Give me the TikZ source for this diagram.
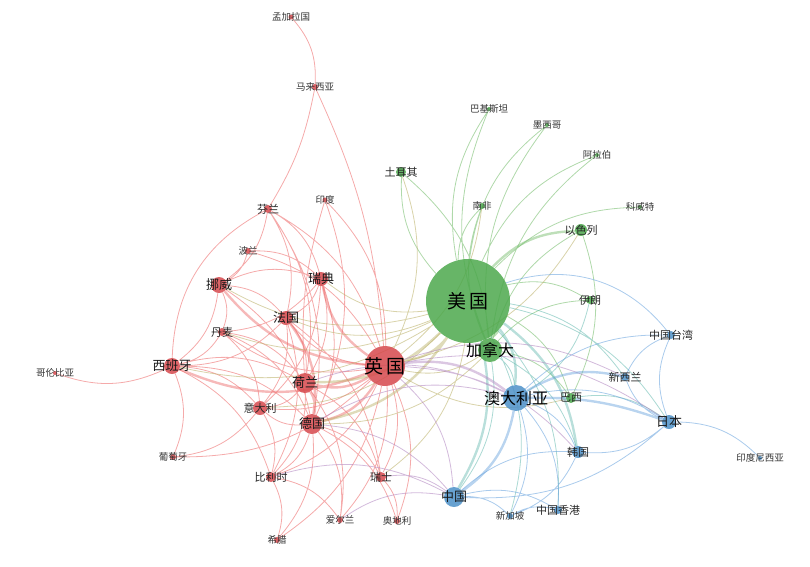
\documentclass[tikz,border=0pt]{standalone}
\usepackage{fontspec}
\setmainfont{Noto Sans CJK SC}
\usetikzlibrary{backgrounds}

\definecolor{rednode}{RGB}{214,72,76}
\definecolor{greennode}{RGB}{76,168,76}
\definecolor{bluenode}{RGB}{76,144,200}
\definecolor{redline}{RGB}{236,100,100}
\definecolor{greenline}{RGB}{110,185,100}
\definecolor{blueline}{RGB}{100,160,220}
\definecolor{oliveline}{RGB}{185,175,100}
\definecolor{tealline}{RGB}{100,185,175}
\definecolor{purpleline}{RGB}{175,130,190}

\tikzset{
  cnode/.style={circle, inner sep=0pt, minimum size=#1, opacity=0.85},
  rnode/.style={cnode=#1, fill=rednode},
  gnode/.style={cnode=#1, fill=greennode},
  bnode/.style={cnode=#1, fill=bluenode},
  lblS/.style={font=\fontsize{9.5}{10}\selectfont, text=black!80},
  lblM/.style={font=\fontsize{11}{12}\selectfont, text=black!85},
  lblL/.style={font=\fontsize{13}{14}\selectfont, text=black!90},
  lblX/.style={font=\fontsize{16}{17}\selectfont},
  lblXX/.style={font=\fontsize{19}{20}\selectfont},
  edgeline/.style={line width=0.8pt, draw opacity=0.55, bend left=22},
  redE/.style={edgeline, draw=redline},
  greenE/.style={edgeline, draw=greenline},
  blueE/.style={edgeline, draw=blueline},
  oliveE/.style={edgeline, draw=oliveline},
  tealE/.style={edgeline, draw=tealline},
  purpleE/.style={edgeline, draw=purpleline},
  heavy/.style={line width=2.4pt, draw opacity=0.45}
}

\begin{document}
\begin{tikzpicture}[x=1pt, y=-1pt]
\useasboundingbox (0,0) rectangle (810,566);

% Europe and others (red)
\node[rnode=5pt,  label={[lblS]center:孟加拉国}] (ban) at (291,17)  {};
\node[rnode=6pt,  label={[lblS]center:马来西亚}] (mal) at (315,87)  {};
\node[rnode=8pt,  label={[lblM]center:芬兰}]     (fin) at (268,209) {};
\node[rnode=5pt,  label={[lblS]center:印度}]     (ind) at (325,200) {};
\node[rnode=6pt,  label={[lblS]center:波兰}]     (pol) at (248,251) {};
\node[rnode=16pt, label={[lblL]center:挪威}]     (nor) at (219,285) {};
\node[rnode=14pt, label={[lblL]center:瑞典}]     (swe) at (321,279) {};
\node[rnode=14pt, label={[lblL]center:法国}]     (fra) at (286,318) {};
\node[rnode=8pt,  label={[lblM]center:丹麦}]     (den) at (222,332) {};
\node[rnode=16pt, label={[lblL]center:西班牙}]   (esp) at (172,366) {};
\node[rnode=4pt,  label={[lblS]center:哥伦比亚}] (col) at (55,373)  {};
\node[rnode=40pt, label={[lblXX]center:英\,国}]  (uk)  at (385,366) {};
\node[rnode=20pt, label={[lblL]center:荷兰}]     (ned) at (305,383) {};
\node[rnode=14pt, label={[lblM]center:意大利}]   (ita) at (260,408) {};
\node[rnode=20pt, label={[lblL]center:德国}]     (ger) at (312,424) {};
\node[rnode=6pt,  label={[lblS]center:葡萄牙}]   (por) at (173,457) {};
\node[rnode=10pt, label={[lblM]center:比利时}]   (bel) at (271,477) {};
\node[rnode=10pt, label={[lblM]center:瑞士}]     (sui) at (381,477) {};
\node[rnode=6pt,  label={[lblS]center:爱尔兰}]   (irl) at (340,520) {};
\node[rnode=6pt,  label={[lblS]center:奥地利}]   (aut) at (397,521) {};
\node[rnode=6pt,  label={[lblS]center:希腊}]     (gre) at (277,540) {};

% Americas and Middle East (green)
\node[gnode=84pt, label={[lblXX]center:美\,国}]  (us)   at (468,301) {};
\node[gnode=24pt, label={[lblX]center:加拿大}]   (can)  at (490,350) {};
\node[gnode=10pt, label={[lblM]center:土耳其}]   (tur)  at (401,172) {};
\node[gnode=4pt,  label={[lblS]center:巴基斯坦}] (pak)  at (489,109) {};
\node[gnode=4pt,  label={[lblS]center:墨西哥}]   (mex)  at (547,125) {};
\node[gnode=4pt,  label={[lblS]center:阿拉伯}]   (ara)  at (597,155) {};
\node[gnode=6pt,  label={[lblS]center:南非}]     (saf)  at (482,206) {};
\node[gnode=4pt,  label={[lblS]center:科威特}]   (kuw)  at (640,207) {};
\node[gnode=12pt, label={[lblM]center:以色列}]   (isr)  at (581,230) {};
\node[gnode=8pt,  label={[lblM]center:伊朗}]     (iran) at (590,300) {};
\node[gnode=10pt, label={[lblM]center:巴西}]     (bra)  at (571,398) {};

% Asia-Pacific (blue)
\node[bnode=26pt, label={[lblX]center:澳大利亚}] (aus) at (516,398) {};
\node[bnode=8pt,  label={[lblM]center:中国台湾}] (twn) at (671,335) {};
\node[bnode=8pt,  label={[lblM]center:新西兰}]   (nz)  at (625,377) {};
\node[bnode=14pt, label={[lblL]center:日本}]     (jpn) at (669,422) {};
\node[bnode=4pt,  label={[lblS]center:印度尼西亚}] (idn) at (760,458) {};
\node[bnode=12pt, label={[lblM]center:韩国}]     (kor) at (578,452) {};
\node[bnode=20pt, label={[lblL]center:中国}]     (chn) at (454,497) {};
\node[bnode=6pt,  label={[lblS]center:新加坡}]   (sgp) at (510,516) {};
\node[bnode=8pt,  label={[lblM]center:中国香港}] (hk)  at (558,510) {};

\begin{pgfonlayer}{background}
% red links
\draw[redE] (ban) to (mal) (mal) to[bend left=10] (fin) (mal) to[bend left=10] (uk)
  (fin) to[bend right=30] (esp) (fin) to (uk) (fin) to (ned) (fin) to (ger)
  (fin) to (swe) (fin) to (nor) (fin) to (fra) (ind) to (uk) (ind) to (ger)
  (ind) to[bend right=10] (ned) (pol) to (uk) (pol) to (swe) (pol) to (nor)
  (nor) to (swe) (nor) to (den) (nor) to (fra) (nor) to (ger) (nor) to (esp)
  (swe) to (ned) (swe) to (ger) (swe) to (fra) (swe) to (den) (swe) to (ita)
  (fra) to (esp) (fra) to (ita) (fra) to (bel) (fra) to (ned) (fra) to (sui)
  (den) to (ned) (den) to (ger) (den) to (ita) (den) to (esp)
  (esp) to (col) (esp) to (por) (esp) to (ita) (esp) to (bel) (esp) to (ned)
  (esp) to (ger) (ned) to (ita) (ned) to (bel) (ned) to (sui) (ned) to (irl)
  (ger) to (ita) (ger) to (bel) (ger) to (sui) (ger) to (aut) (ger) to (irl)
  (ger) to (gre) (ita) to (por) (ita) to (bel) (bel) to (gre) (bel) to (irl)
  (sui) to (aut) (uk) to (ita) (uk) to (bel) (uk) to (sui) (uk) to (irl)
  (uk) to (aut) (uk) to (gre) (uk) to (por) (uk) to (fra) (uk) to (den);
\draw[redE, heavy] (uk) to (ned) (uk) to (ger) (uk) to (nor) (uk) to (swe)
  (uk) to (esp) (ned) to (ger) (fra) to (ger);

% green links
\draw[greenE] (us) to (tur) (us) to (pak) (us) to (mex) (us) to (ara)
  (us) to (saf) (us) to (kuw) (us) to (iran) (us) to (bra) (can) to (isr)
  (can) to (bra) (can) to (iran) (can) to (saf) (can) to (pak) (can) to (ara)
  (can) to (mex) (tur) to (can) (isr) to (bra);
\draw[greenE, heavy] (us) to (can) (us) to (isr);

% mixed links
\draw[oliveE] (us) to (nor) (us) to (swe) (us) to (fra) (us) to (esp)
  (us) to (den) (us) to (sui) (us) to (ita) (tur) to (uk) (saf) to (uk)
  (can) to (uk) (isr) to (uk) (can) to (ger) (bra) to (uk);
\draw[oliveE, heavy] (us) to (uk) (us) to (ned) (us) to (ger);
\draw[tealE] (us) to (jpn) (us) to (nz) (us) to (sgp) (us) to (hk)
  (can) to (aus) (can) to (chn) (bra) to (jpn) (can) to (kor) (iran) to (aus);
\draw[tealE, heavy] (us) to (aus) (us) to (chn) (us) to (kor);
\draw[blueline, edgeline] (us) to[bend left=35] (twn);
\draw[purpleE] (uk) to (chn) (ger) to (chn) (uk) to (jpn) (uk) to (nz)
  (sui) to (chn) (bel) to (chn) (irl) to (chn) (ned) to (aus) (ger) to (aus)
  (uk) to (kor);
\draw[purpleE, heavy] (uk) to (aus);

% blue links
\draw[blueE] (aus) to (jpn) (aus) to (kor) (aus) to (hk) (aus) to (sgp)
  (aus) to (twn) (jpn) to (idn) (jpn) to (twn) (jpn) to (kor) (jpn) to (chn)
  (chn) to (sgp) (chn) to (hk) (chn) to (kor) (nz) to (twn) (sgp) to (hk)
  (jpn) to (nz) (kor) to (sgp);
\draw[blueE, heavy] (aus) to (chn) (aus) to (nz) (aus) to[bend left=10] (jpn);
\end{pgfonlayer}

\end{tikzpicture}
\end{document}
